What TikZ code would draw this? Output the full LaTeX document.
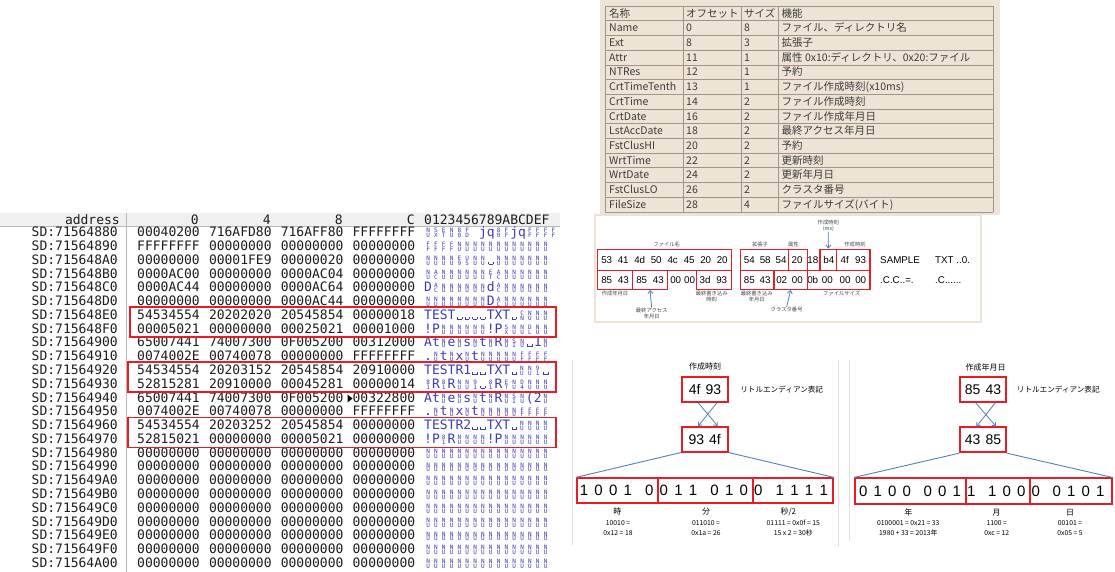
\documentclass[tikz,border=0pt]{standalone}
\usepackage{fontspec}
\setmainfont{Liberation Sans}
\newfontfamily\monof{DejaVu Sans Mono}
\newfontfamily\jpf{Noto Sans CJK JP}
\usetikzlibrary{arrows.meta}
\definecolor{rbox}{RGB}{232,28,36}
\definecolor{ablue}{RGB}{79,129,189}
\definecolor{asccol}{RGB}{60,60,180}
\definecolor{beige}{RGB}{238,228,214}
\definecolor{tline}{RGB}{160,148,134}
\definecolor{ttext}{RGB}{60,60,60}
\definecolor{sepcol}{RGB}{230,222,210}
\newlength\cw \setlength\cw{7.83pt}
\newcommand\sgl[2]{\lower1pt\vbox{\offinterlineskip\hbox to\cw{\hss\fontsize{6}{6}\selectfont #1\hss}\kern0.4pt\hbox to\cw{\hss\fontsize{6}{6}\selectfont #2\hss}}}
\newcommand\xn{\sgl NU}
\newcommand\xf{\sgl FF}
\newcommand\xs{\hbox to\cw{\hss\vrule width .6pt height 2.6pt\vrule width 4.2pt height .6pt\vrule width .6pt height 2.6pt\hss}}
\newcommand\zrow{\xn\xn\xn\xn\xn\xn\xn\xn\xn\xn\xn\xn\xn\xn\xn\xn}
\newcommand\arow[2]{\node[asc] (s#1) at (424,{236.7+13.78*#1}) {#2};}
\begin{document}
\begin{tikzpicture}[x=1pt,y=-1pt,
  hx/.style={font=\monof\fontsize{13}{13}\selectfont, text={rgb,255:red,30;green,30;blue,30}, inner sep=0, anchor=base west},
  asc/.style={font=\monof\fontsize{13}{13}\selectfont, text=asccol, inner sep=0, anchor=base west},
  hlbox/.style={draw=rbox, line width=1.8pt},
  tcell/.style={font=\jpf\fontsize{10.5}{10.5}\selectfont, text=ttext, inner sep=0, anchor=base west},
  mhex/.style={font=\fontsize{9.8}{9.8}\selectfont, inner sep=0},
  mbox/.style={draw=rbox, line width=1.3pt, inner sep=0},
  tiny/.style={font=\jpf\fontsize{5.3}{5.8}\selectfont, text={rgb,255:red,70;green,70;blue,70}, inner sep=0, align=center},
  barrow/.style={draw=ablue, line width=0.8pt, -{Straight Barb[length=3pt,width=5pt]}},
  bline/.style={draw=ablue, line width=0.9pt},
  bbox/.style={draw=rbox, line width=1.8pt, inner sep=0, font=\fontsize{14}{14}\selectfont},
  bit/.style={font=\fontsize{15}{15}\selectfont, inner sep=0},
  jlab/.style={font=\jpf\fontsize{8}{8}\selectfont, inner sep=0},
  nlab/.style={font=\jpf\fontsize{6.8}{10}\selectfont, inner sep=0, align=center},
]
\useasboundingbox (0,0) rectangle (1115,572);
\fill[white] (0,0) rectangle (1115,572);

% ---------------- hex dump ----------------
\fill[gray!12] (0,212.5) rectangle (560,226);
\draw[gray!55] (0,226.2) -- (560,226.2);
\draw[gray!55] (126,212.5) -- (126,572);
\node[hx, anchor=base east] (hadr) at (120,224) {address};
\node[hx, anchor=base east] (h0) at (199,224) {0};
\node[hx, anchor=base east] (h4) at (271,224) {4};
\node[hx, anchor=base east] (h8) at (343,224) {8};
\node[hx, anchor=base east] (hc) at (415,224) {C};
\node[hx] (hasc) at (424,224) {0123456789ABCDEF};

\foreach \i/\ad/\ga/\gb/\gc/\gd in {
 0/71564880/00040200/716AFD80/716AFF80/FFFFFFFF,
 1/71564890/FFFFFFFF/00000000/00000000/00000000,
 2/715648A0/00000000/00001FE9/00000020/00000000,
 3/715648B0/0000AC00/00000000/0000AC04/00000000,
 4/715648C0/0000AC44/00000000/0000AC64/00000000,
 5/715648D0/00000000/00000000/0000AC44/00000000,
 6/715648E0/54534554/20202020/20545854/00000018,
 7/715648F0/00005021/00000000/00025021/00001000,
 8/71564900/65007441/74007300/0F005200/00312000,
 9/71564910/0074002E/00740078/00000000/FFFFFFFF,
 10/71564920/54534554/20203152/20545854/20910000,
 11/71564930/52815281/20910000/00045281/00000014,
 12/71564940/65007441/74007300/0F005200/00322800,
 13/71564950/0074002E/00740078/00000000/FFFFFFFF,
 14/71564960/54534554/20203252/20545854/00000000,
 15/71564970/52815021/00000000/00005021/00000000,
 16/71564980/00000000/00000000/00000000/00000000,
 17/71564990/00000000/00000000/00000000/00000000,
 18/715649A0/00000000/00000000/00000000/00000000,
 19/715649B0/00000000/00000000/00000000/00000000,
 20/715649C0/00000000/00000000/00000000/00000000,
 21/715649D0/00000000/00000000/00000000/00000000,
 22/715649E0/00000000/00000000/00000000/00000000,
 23/715649F0/00000000/00000000/00000000/00000000,
 24/71564A00/00000000/00000000/00000000/00000000}{
  \node[hx, anchor=base east] (ad\i) at (118,{236.7+13.78*\i}) {SD:\ad};
  \node[hx] (ga\i) at (137,{236.7+13.78*\i}) {\ga};
  \node[hx] (gb\i) at (208.8,{236.7+13.78*\i}) {\gb};
  \node[hx] (gc\i) at (280.6,{236.7+13.78*\i}) {\gc};
  \node[hx] (gd\i) at (352.4,{236.7+13.78*\i}) {\gd};
}
\arow{0}{\xn\sgl SX\sgl ET\xn\sgl 80\sgl FD jq\sgl 80\xf jq\xf\xf\xf\xf}
\arow{1}{\xf\xf\xf\xf\xn\xn\xn\xn\xn\xn\xn\xn\xn\xn\xn\xn}
\arow{2}{\xn\xn\xn\xn\sgl E9\sgl US\xn\xn\xs\xn\xn\xn\xn\xn\xn\xn}
\arow{3}{\xn\sgl AC\xn\xn\xn\xn\xn\xn\sgl ET\sgl AC\xn\xn\xn\xn\xn\xn}
\arow{4}{D\sgl AC\xn\xn\xn\xn\xn\xn d\sgl AC\xn\xn\xn\xn\xn\xn}
\arow{5}{\xn\xn\xn\xn\xn\xn\xn\xn D\sgl AC\xn\xn\xn\xn\xn\xn}
\arow{6}{TEST\xs\xs\xs\xs TXT\xs\sgl CN\xn\xn\xn}
\arow{7}{!P\xn\xn\xn\xn\xn\xn!P\sgl SX\xn\xn\sgl DL\xn\xn}
\arow{8}{At\xn e\xn s\xn t\xn R\xn\sgl SI\xn\xs 1\xn}
\arow{9}{.\xn t\xn x\xn t\xn\xn\xn\xn\xn\xf\xf\xf\xf}
\arow{10}{TESTR1\xs\xs TXT\xs\xn\xn\sgl 91\xs}
\arow{11}{\sgl 81R\sgl 81R\xn\xn\sgl 91\xs\sgl 81R\sgl ET\xn\sgl D4\xn\xn\xn}
\arow{12}{At\xn e\xn s\xn t\xn R\xn\sgl SI\xn(2\xn}
\arow{13}{.\xn t\xn x\xn t\xn\xn\xn\xn\xn\xf\xf\xf\xf}
\arow{14}{TESTR2\xs\xs TXT\xs\xn\xn\xn\xn}
\arow{15}{!P\sgl 81R\xn\xn\xn\xn!P\xn\xn\xn\xn\xn\xn}
\foreach \r in {16,...,24}{\arow{\r}{\zrow}}
\fill[black] (347.5,394.5) -- (352.5,398.5) -- (347.5,402.5) -- cycle;
\draw[hlbox] (130,307) rectangle (556,337);
\draw[hlbox] (128,362) rectangle (556,392);
\draw[hlbox] (128,417.5) rectangle (556,447.5);

% ---------------- table ----------------
\fill[beige] (600,0) rectangle (1000,215);
\foreach \i in {0,...,14} \draw[tline] (605,{6+14.7*\i}) -- (992.7,{6+14.7*\i});
\foreach \x in {605,682.7,740.7,777.7,992.7} \draw[tline] (\x,6) -- (\x,211.8);
\foreach \i/\a/\b/\c/\d in {
 0/名称/オフセット/サイズ/機能,
 1/Name/0/8/ファイル、ディレクトリ名,
 2/Ext/8/3/拡張子,
 3/Attr/11/1/属性 0x10:ディレクトリ、0x20:ファイル,
 4/NTRes/12/1/予約,
 5/CrtTimeTenth/13/1/ファイル作成時刻(x10ms),
 6/CrtTime/14/2/ファイル作成時刻,
 7/CrtDate/16/2/ファイル作成年月日,
 8/LstAccDate/18/2/最終アクセス年月日,
 9/FstClusHI/20/2/予約,
 10/WrtTime/22/2/更新時刻,
 11/WrtDate/24/2/更新年月日,
 12/FstClusLO/26/2/クラスタ番号,
 13/FileSize/28/4/ファイルサイズ(バイト)}{
  \node[tcell] (ta\i) at (609,{17.2+14.7*\i}) {\a};
  \node[tcell] (tb\i) at (686,{17.2+14.7*\i}) {\b};
  \node[tcell] (tc\i) at (744,{17.2+14.7*\i}) {\c};
  \node[tcell] (td\i) at (781.5,{17.2+14.7*\i}) {\d};
}

% ---------------- middle dump image ----------------
\fill[beige] (594,214) rectangle (982,323);
\fill[white] (596,216) rectangle (980,321);
\foreach \x/\t [count=\k] in {606.7/53,623.2/41,639.7/4d,656.2/50,672.7/4c,689.2/45,705.7/20,722.2/20,749.3/54,765.2/58,781.1/54,797/20,812.9/18,828.8/b4,844.7/4f,860.6/93}
  \node[mhex] (ma\k) at (\x,259.8) {\t};
\foreach \x/\t [count=\k] in {606.7/85,623.3/43,641.7/85,658.3/43,675.7/00,689.5/00,705/3d,721.7/93,749.3/85,765/43,781.7/02,797.3/00,812.7/0b,827.3/00,845/00,860.7/00}
  \node[mhex] (mb\k) at (\x,280.3) {\t};
\node[mhex, anchor=west] (mas1) at (880,259.8) {SAMPLE};
\node[mhex, anchor=west] (mas2) at (935,259.8) {TXT ..0.};
\node[mhex, anchor=west] (mas3) at (880,280.3) {.C.C..=.};
\node[mhex, anchor=west] (mas4) at (935,280.3) {.C......};
% red boxes row 1
\node[mbox, minimum width=134.4pt, minimum height=21pt] (bxA) at (664.5,259.8) {};
\node[mbox, minimum width=47.6pt, minimum height=21pt] (bxB) at (764.5,259.8) {};
\node[mbox, minimum width=19pt, minimum height=21pt] (bxC) at (797.8,259.8) {};
\node[mbox, minimum width=16.7pt, minimum height=21pt] (bxD) at (828.35,259.8) {};
\node[mbox, minimum width=33.3pt, minimum height=21pt] (bxE) at (853.35,259.8) {};
% red boxes row 2
\node[mbox, minimum width=35.4pt, minimum height=19pt] (bxF) at (615,279.8) {};
\node[mbox, minimum width=34.6pt, minimum height=19pt] (bxG) at (650,279.8) {};
\node[mbox, minimum width=35pt, minimum height=19pt] (bxH) at (714.2,279.8) {};
\node[mbox, minimum width=33.3pt, minimum height=19pt] (bxI) at (757.35,279.8) {};
\node[mbox, minimum width=33.3pt, minimum height=19pt] (bxJ) at (790.65,279.8) {};
\node[mbox, minimum width=62.7pt, minimum height=19pt] (bxK) at (838.65,279.8) {};
% labels
\node[tiny] (lfn) at (666.7,244.3) {ファイル名};
\node[tiny] (lext) at (760,244.3) {拡張子};
\node[tiny] (lattr) at (793.3,244.3) {属性};
\node[tiny] (lms) at (828.3,225.8) {作成時刻\\(ms)};
\node[tiny] (lct) at (855,244.3) {作成時刻};
\node[tiny] (lcd) at (615,293.5) {作成年月日};
\node[tiny] (lacc) at (651.7,313.2) {最終アクセス\\年月日};
\node[tiny] (lwt) at (711.7,296.2) {最終書き込み\\時刻};
\node[tiny] (lwd) at (756.7,296.2) {最終書き込み\\年月日};
\node[tiny] (lfs) at (841.7,293.7) {ファイルサイズ};
\node[tiny] (lcl) at (786.7,309.5) {クラスタ番号};
\draw[barrow] (lms.south) -- (bxD.north);
\draw[barrow] (lacc.north) -- (bxG.south);
\draw[barrow] (lcl.north) -- (bxJ.south);

% ---------------- bottom separators ----------------
\draw[sepcol, line width=1pt] (572,360) -- (572,545);
\draw[sepcol, line width=1pt] (838,360) -- (838,547);
\draw[sepcol, line width=1pt] (849,360) -- (849,541);

% ---------------- bottom left: time ----------------
\node[jlab] (tlab) at (705,366) {作成時刻};
\node[bbox, minimum width=46.6pt, minimum height=25pt] (t1) at (705,389.2) {4f\hspace{5pt}93};
\node[jlab, font=\jpf\fontsize{7.6}{7.6}\selectfont] (tnote) at (781.7,390) {リトルエンディアン表記};
\node[bbox, minimum width=46pt, minimum height=24.7pt] (t2) at (704.7,439.3) {93\hspace{5pt}4f};
\draw[barrow] ([xshift=-7pt]t1.south) -- ([xshift=13pt]t2.north);
\draw[barrow] ([xshift=12pt]t1.south) -- ([xshift=-6.5pt]t2.north);
\node[bbox, minimum width=81pt, minimum height=25pt] (ta) at (617.2,490.8) {};
\node[bbox, minimum width=95.3pt, minimum height=25pt] (tb) at (705.3,490.8) {};
\node[bbox, minimum width=80pt, minimum height=25pt] (tc) at (793,490.8) {};
\draw[bline] (t2.south west) -- (ta.north west);
\draw[bline] (t2.south east) -- (tc.north east);
\foreach \b [count=\k from 0] in {1,0,0,1,0,0,1,1,0,1,0,0,1,1,1,1}
  \node[bit] (tbit\k) at ({584+65.3*floor(\k/4)+14.6*mod(\k,4)},490.8) {\b};
\node[jlab] (th) at (617.3,511.7) {時};
\node[nlab] (thv) at (618,527.7) {10010 =\\0x12 = 18};
\node[jlab] (tm) at (706,511.7) {分};
\node[nlab] (tmv) at (706,527.7) {011010 =\\0x1a = 26};
\node[jlab] (ts) at (788.3,511.7) {秒/2};
\node[nlab] (tsv) at (793.3,527.7) {01111 = 0x0f = 15\\15 x 2 = 30秒};

% ---------------- bottom right: date ----------------
\node[jlab] (dlab) at (985.7,367.3) {作成年月日};
\node[bbox, minimum width=46pt, minimum height=25pt] (d1) at (983,389.8) {85\hspace{5pt}43};
\node[jlab, font=\jpf\fontsize{7.6}{7.6}\selectfont] (dnote) at (1058.3,390) {リトルエンディアン表記};
\node[bbox, minimum width=46pt, minimum height=25pt] (d2) at (983,439.8) {43\hspace{5pt}85};
\draw[barrow] ([xshift=-7pt]d1.south) -- ([xshift=13pt]d2.north);
\draw[barrow] ([xshift=12pt]d1.south) -- ([xshift=-6.5pt]d2.north);
\node[bbox, minimum width=110.7pt, minimum height=25.7pt] (da) at (910.35,491.2) {};
\node[bbox, minimum width=64.6pt, minimum height=25.7pt] (db) at (998,491.2) {};
\node[bbox, minimum width=81.4pt, minimum height=25.7pt] (dc) at (1071,491.2) {};
\draw[bline] (d2.south west) -- (da.north west);
\draw[bline] (d2.south east) -- (dc.north east);
\foreach \b [count=\k from 0] in {0,1,0,0,0,0,1,1,1,0,0,0,0,1,0,1}
  \node[bit] (dbit\k) at ({863.3+64.5*floor(\k/4)+14.5*mod(\k,4)},491.2) {\b};
\node[jlab] (dy) at (908.3,512.3) {年};
\node[nlab] (dyv) at (908.3,528.3) {0100001 = 0x21 = 33\\1980 + 33 = 2013年};
\node[jlab] (dm) at (996.7,512.3) {月};
\node[nlab] (dmv) at (996.7,528.3) {1100 =\\0xc = 12};
\node[jlab] (dd) at (1070,512.3) {日};
\node[nlab] (ddv) at (1070,528.3) {00101 =\\0x05 = 5};
\end{tikzpicture}
\end{document}
